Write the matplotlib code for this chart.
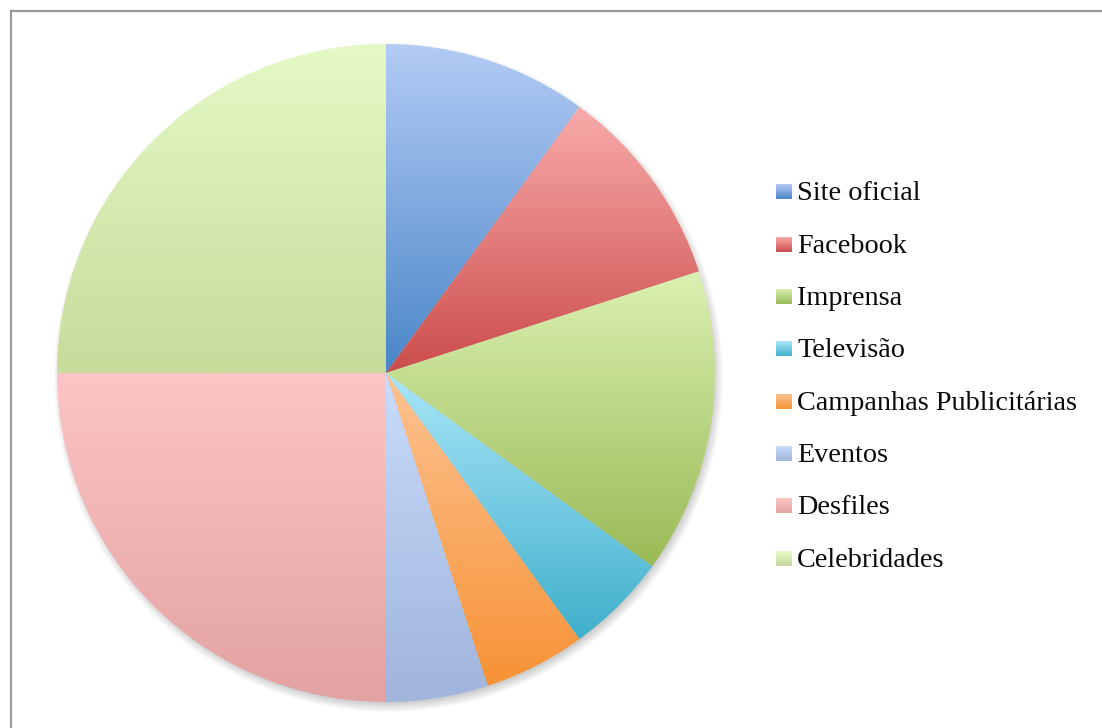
import numpy as np
import matplotlib
matplotlib.use("Agg")
import matplotlib.pyplot as plt
from matplotlib.lines import Line2D

# Share of each communication channel (percent)
categories = ["Site oficial", "Facebook", "Imprensa", "Televisão",
              "Campanhas Publicitárias", "Eventos", "Desfiles", "Celebridades"]
values = [10, 10, 15, 5, 5, 5, 25, 25]

# Vertical gradient per slice: (top colour, bottom colour)
top_colors = ["#b3cbf5", "#f9abab", "#dbf1b2", "#aae6f9",
              "#fdc392", "#c9dcfc", "#fdc5c5", "#e5f9c6"]
bottom_colors = ["#4a86c8", "#cb4d4b", "#9aba56", "#3fafcb",
                 "#f79236", "#a0b4dc", "#e3a2a2", "#c7db9b"]

W, H = 1102, 728
fig = plt.figure(figsize=(W / 100, H / 100), dpi=100)
ax = fig.add_axes([0, 0, 1, 1])

cx, cy, R = 386, H - 373, 329


def gradient(top, bottom, n=256):
    t = np.linspace(0, 1, n)[:, None]
    c0 = np.array(matplotlib.colors.to_rgb(bottom))
    c1 = np.array(matplotlib.colors.to_rgb(top))
    return (c0 * (1 - t) + c1 * t)[:, None, :]


# soft drop shadow below the pie
yy, xx = np.mgrid[0:H, 0:W]
d = np.hypot(xx - (cx + 2), (H - 1 - yy) - (cy - 5))
alpha = np.clip((R + 6 - d) / 10, 0, 1) * 0.30
shadow = np.zeros((H, W, 4))
shadow[..., :3] = 0.35
shadow[..., 3] = alpha
ax.imshow(shadow, extent=(0, W, 0, H), origin="upper", zorder=0,
          interpolation="bilinear")

wedges, _ = ax.pie(values, startangle=90, counterclock=False,
                   center=(cx, cy), radius=R, frame=True,
                   wedgeprops=dict(linewidth=0, edgecolor="none"))

for w, tc, bc in zip(wedges, top_colors, bottom_colors):
    w.set_facecolor("none")
    ext = w.get_path().get_extents()
    im = ax.imshow(gradient(tc, bc), extent=(ext.x0, ext.x1, ext.y0, ext.y1),
                   origin="lower", aspect="auto", zorder=2,
                   interpolation="bilinear")
    im.set_clip_path(w)

# legend with gradient swatches
y0, dy = 192, 52.3
for i, (name, tc, bc) in enumerate(zip(categories, top_colors, bottom_colors)):
    yc = H - (y0 + i * dy)
    ax.imshow(gradient(tc, bc), extent=(776, 792, yc - 7.5, yc + 7.5),
              origin="lower", aspect="auto", zorder=3)
    ax.text(797, yc - 2, name, fontsize=20.3, family="Liberation Serif",
            va="center", ha="left", color="#0a0a0a")

ax.set_xlim(0, W)
ax.set_ylim(0, H)
ax.set_aspect("equal")
ax.axis("off")

# chart frame (top and left edges visible)
fig.add_artist(Line2D([10.5 / W, 10.5 / W], [0, 1 - 10.5 / H],
                      transform=fig.transFigure, color="#9a9a9a", lw=1.6))
fig.add_artist(Line2D([10.5 / W, 1], [1 - 10.5 / H, 1 - 10.5 / H],
                      transform=fig.transFigure, color="#9a9a9a", lw=1.6))

fig.savefig("out.png", dpi=100, facecolor="white")
